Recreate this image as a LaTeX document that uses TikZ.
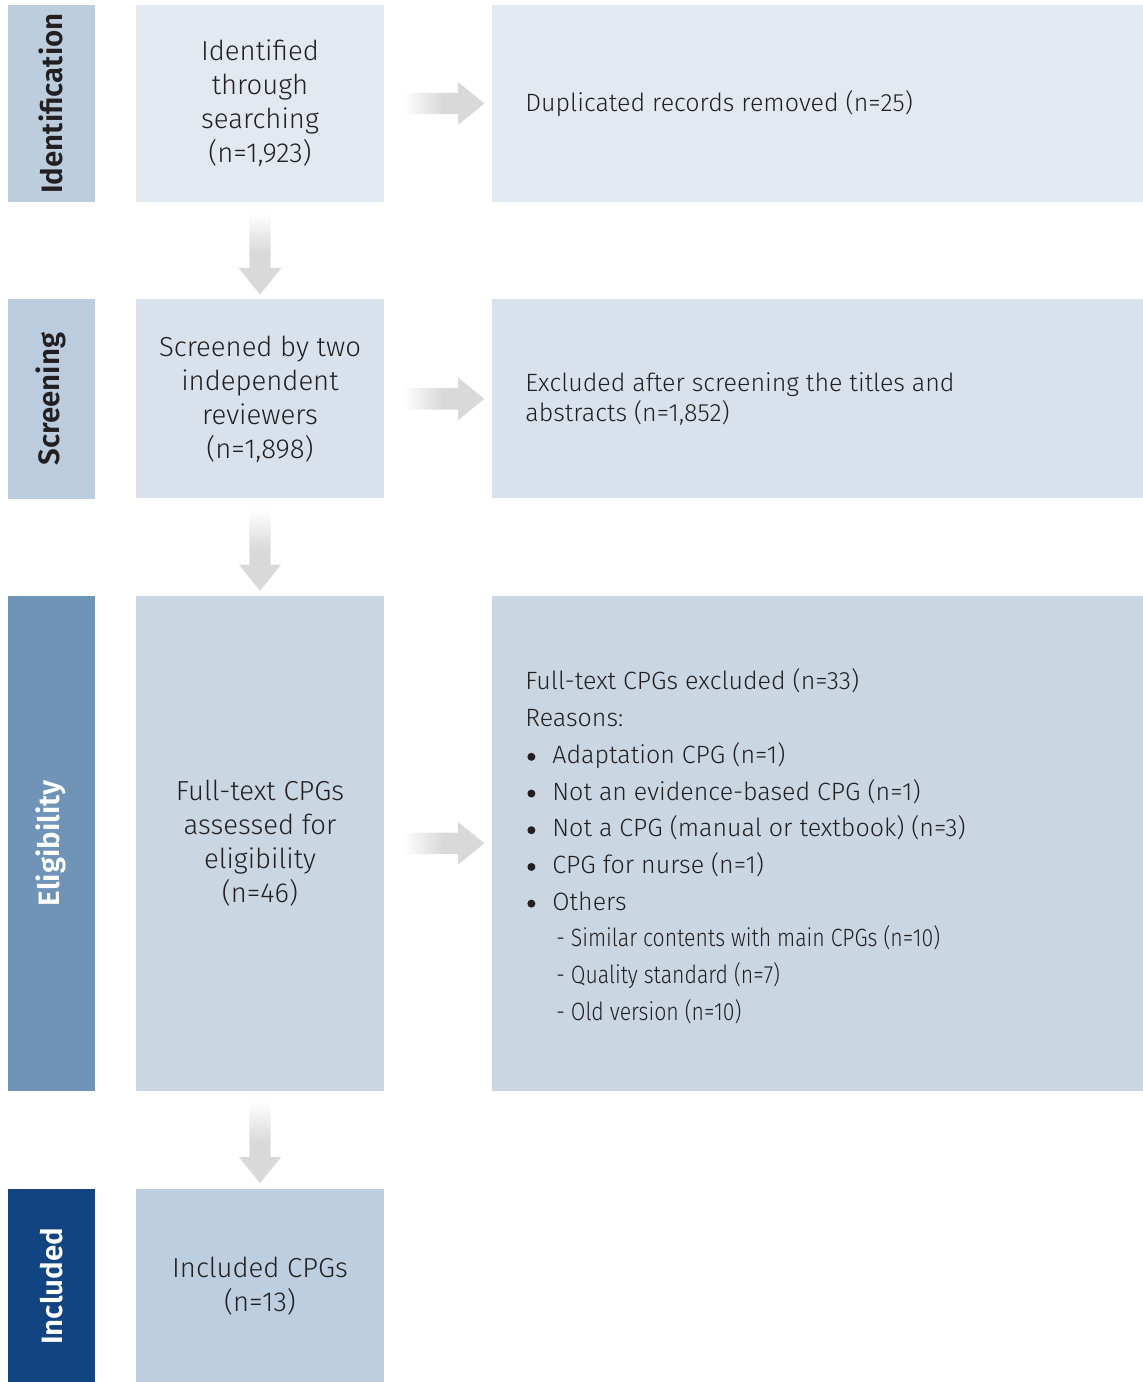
\documentclass[tikz,border=0pt]{standalone}
\usepackage{fontspec}
\setmainfont{Fira Sans Light}[BoldFont={Fira Sans SemiBold}]
\usepackage{graphicx}
\usetikzlibrary{positioning,calc,shapes.arrows}

\definecolor{inkcol}{HTML}{231F20}
\definecolor{arrowgray}{HTML}{D9D9D9}
\definecolor{idside}{HTML}{BCCDDE}
\definecolor{scrside}{HTML}{BACCDE}
\definecolor{eliside}{HTML}{6F94B8}
\definecolor{incside}{HTML}{114480}
\definecolor{idfill}{HTML}{E3E9F1}
\definecolor{scrfill}{HTML}{D9E2EC}
\definecolor{elifill}{HTML}{CAD7E3}
\definecolor{incfill}{HTML}{BCCEDF}

\pgfdeclarehorizontalshading{hfade}{100bp}{color(0bp)=(white); color(25bp)=(white); color(50bp)=(arrowgray); color(100bp)=(arrowgray)}
\pgfdeclareverticalshading{vfade}{100bp}{color(0bp)=(arrowgray); color(50bp)=(arrowgray); color(75bp)=(white); color(100bp)=(white)}

\newcommand{\condtext}[1]{\scalebox{0.85}[1]{#1}}
\newcommand{\listdot}{\hspace{2pt}\makebox[25pt][l]{\raisebox{2.5pt}{\tikz\fill[inkcol] (0,0) circle (4pt);}}}

\tikzset{
    sidebox/.style={minimum width=87pt, inner sep=0pt},
    sidetext/.style={rotate=90, font=\fontsize{29.5}{32}\selectfont\bfseries},
    midbox/.style={minimum width=248pt, inner sep=0pt, align=center, text=inkcol, font=\fontsize{27.5}{34}\selectfont},
    rightbox/.style={minimum width=651pt, inner sep=0pt},
    righttext/.style={anchor=west, align=left, inner sep=0pt, text=inkcol, font=\fontsize{25}{30}\selectfont},
    flowarrow/.style={single arrow, shade, inner sep=10.5pt, minimum width=42pt, minimum height=82pt, single arrow head extend=10.5pt, single arrow head indent=0pt, single arrow tip angle=78, anchor=tail},
    rarrow/.style={flowarrow, shading=hfade},
    darrow/.style={flowarrow, shape border rotate=270, shading=vfade}
}

\begin{document}
\begin{tikzpicture}[x=1pt, y=-1pt]
    \useasboundingbox (0,0) rectangle (1143,1382);

    % middle column
    \node[midbox, fill=idfill, minimum height=197pt] (idmid) at (260,103.5) {Identified\\through\\searching\\(n=1,923)};
    \node[midbox, fill=scrfill, minimum height=199pt, below=97pt of idmid] (scrmid) {Screened by two\\independent\\reviewers\\(n=1,898)};
    \node[midbox, fill=elifill, minimum height=495pt, below=97pt of scrmid] (elimid) {Full-text CPGs\\assessed for\\eligibility\\(n=46)};
    \node[midbox, fill=incfill, minimum height=194pt, below=98pt of elimid] (incmid) {Included CPGs\\(n=13)};

    % stage labels
    \foreach \stage/\col/\tcol/\lab in {id/idside/inkcol/Identification, scr/scrside/inkcol/Screening, eli/eliside/white/Eligibility, inc/incside/white/Included}{
        \path let \p1 = ($(\stage mid.north)-(\stage mid.south)$) in
            node[sidebox, fill=\col, minimum height=\y1, left=41pt of \stage mid] (\stage side) {};
        \node[sidetext, text=\tcol] (\stage label) at (\stage side) {\lab};
    }

    % right column
    \node[rightbox, fill=idfill, minimum height=197pt, right=108pt of idmid] (idright) {};
    \node[rightbox, fill=scrfill, minimum height=199pt, right=108pt of scrmid] (scrright) {};
    \node[rightbox, fill=elifill, minimum height=495pt, right=108pt of elimid] (eliright) {};

    \node[righttext] (idnote) at ($(idright.west)+(33,0)$) {Duplicated records removed (n=25)};
    \node[righttext] (scrnote) at ($(scrright.west)+(33,0)$) {Excluded after screening the titles and\\abstracts (n=1,852)};
    \node[righttext, font=\fontsize{25}{36.7}\selectfont] (elinote) at ($(eliright.west)+(33,3)$) {%
        Full-text CPGs excluded (n=33)\\
        Reasons:\\
        \listdot Adaptation CPG (n=1)\\
        \listdot Not an evidence-based CPG (n=1)\\
        \listdot Not a CPG (manual or textbook) (n=3)\\
        \listdot CPG for nurse (n=1)\\
        \listdot Others\\
        \hspace{31pt}\condtext{- Similar contents with main CPGs (n=10)}\\
        \hspace{31pt}\condtext{- Quality standard (n=7)}\\
        \hspace{31pt}\condtext{- Old version (n=10)}};

    % arrows
    \foreach \stage in {id, scr, eli}{
        \node[rarrow] (\stage arrow) at ($(\stage mid.east)+(18,0)$) {};
    }
    \node[darrow] (downone) at ($(idmid.south)+(0,10)$) {};
    \node[darrow] (downtwo) at ($(scrmid.south)+(0,10)$) {};
    \node[darrow] (downthree) at ($(elimid.south)+(0,10)$) {};
\end{tikzpicture}
\end{document}
